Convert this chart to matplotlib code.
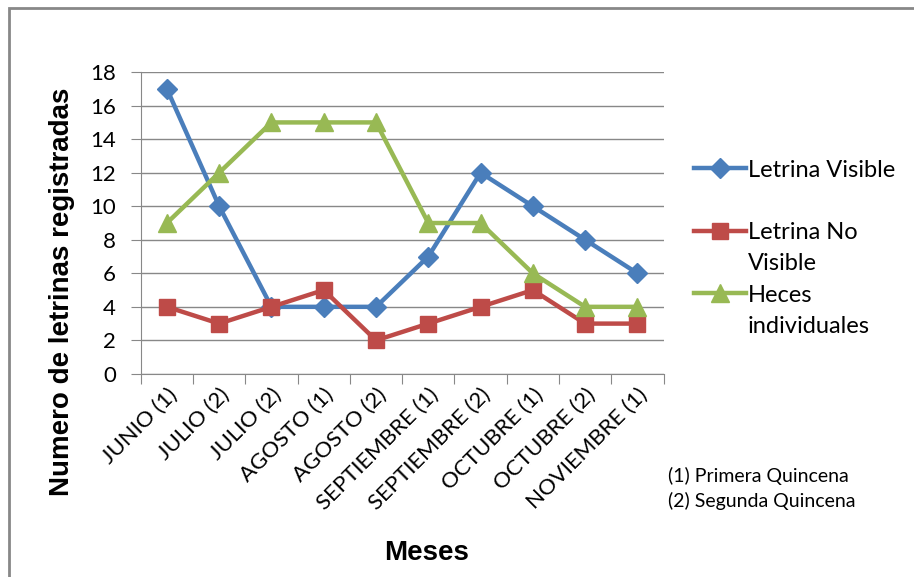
import matplotlib.pyplot as plt
from matplotlib.patches import Rectangle
from matplotlib.transforms import ScaledTranslation

# data
meses = ['JUNIO (1)', 'JULIO (2)', 'JULIO (2)', 'AGOSTO (1)', 'AGOSTO (2)',
         'SEPTIEMBRE (1)', 'SEPTIEMBRE (2)', 'OCTUBRE (1)', 'OCTUBRE (2)',
         'NOVIEMBRE (1)']
letrina_visible = [17, 10, 4, 4, 4, 7, 12, 10, 8, 6]
letrina_no_visible = [4, 3, 4, 5, 2, 3, 4, 5, 3, 3]
heces_individuales = [9, 12, 15, 15, 15, 9, 9, 6, 4, 4]
series_labels = [('Letrina Visible', ''), ('Letrina No', 'Visible'),
                 ('Heces', 'individuales')]

plt.rcParams['font.family'] = ['Lato', 'DejaVu Sans']

fig = plt.figure(figsize=(9.14, 5.77), dpi=100)
ax = fig.add_axes([0.154, 0.352, 0.572, 0.523])

x = range(len(meses))
ax.plot(x, letrina_visible, color='#4A7EBB', lw=3.2, marker='D', ms=10,
        label=series_labels[0][0])
ax.plot(x, letrina_no_visible, color='#BE4B48', lw=3.2, marker='s', ms=12,
        label=series_labels[1][0])
ax.plot(x, heces_individuales, color='#98B954', lw=3.2, marker='^', ms=13,
        label=series_labels[2][0])

ax.set_xlim(-0.5, len(meses) - 0.5)
ax.set_ylim(0, 18)
ax.set_yticks(range(0, 19, 2))
ax.yaxis.grid(True, color='#888888', lw=1)
ax.set_axisbelow(True)
ax.set_xticks([i - 0.5 for i in range(len(meses) + 1)])
ax.set_xticklabels([])
ax.set_xticks(list(x), minor=True)
ax.set_xticklabels(meses, minor=True, rotation=45, ha='right',
                   rotation_mode='anchor', fontsize=16)
shift = ScaledTranslation(10 / 100, 0, fig.dpi_scale_trans)
for lab in ax.get_xticklabels(minor=True):
    lab.set_transform(lab.get_transform() + shift)
ax.tick_params(axis='x', which='minor', length=0, pad=8)
ax.tick_params(axis='x', which='major', length=7, color='#888888')
ax.tick_params(axis='y', length=7, color='#888888', labelsize=16, pad=11)
for side in ['top', 'right']:
    ax.spines[side].set_visible(False)
for side in ['left', 'bottom']:
    ax.spines[side].set_color('#888888')

fig.text(0.068, 1 - 292 / 577, 'Numero de letrinas registradas',
         rotation=90, ha='center', va='center', fontsize=20,
         fontweight='bold', family='Liberation Sans')
fig.text(427 / 914, 1 - 553 / 577, 'Meses', ha='center', va='center',
         fontsize=20, fontweight='bold', family='Liberation Sans')

fig.text(668 / 914, 1 - 476 / 577, '(1) Primera Quincena', ha='left',
         va='center', fontsize=14)
fig.text(668 / 914, 1 - 501 / 577, '(2) Segunda Quincena', ha='left',
         va='center', fontsize=14)

leg = ax.legend(loc='upper left', bbox_to_anchor=(0.746, 0.744),
                bbox_transform=fig.transFigure, frameon=False, fontsize=17,
                handlelength=2.2, handletextpad=0.1, labelspacing=1.76,
                borderpad=0)

# second line of the wrapped legend labels
fig.canvas.draw()
inv = fig.transFigure.inverted()
for txt, (_, second) in zip(leg.get_texts(), series_labels):
    if second:
        bb = txt.get_window_extent()
        x0, y0 = inv.transform((bb.x0, bb.y0 - 31 + bb.height / 2))
        fig.text(x0, y0, second, ha='left', va='center', fontsize=17)

fig.add_artist(Rectangle((9 / 914, -0.1), 1.1, 1 - 8 / 577 + 0.1,
                         transform=fig.transFigure, fill=False,
                         edgecolor='#888888', lw=2))

fig.savefig('out.png', dpi=100)
